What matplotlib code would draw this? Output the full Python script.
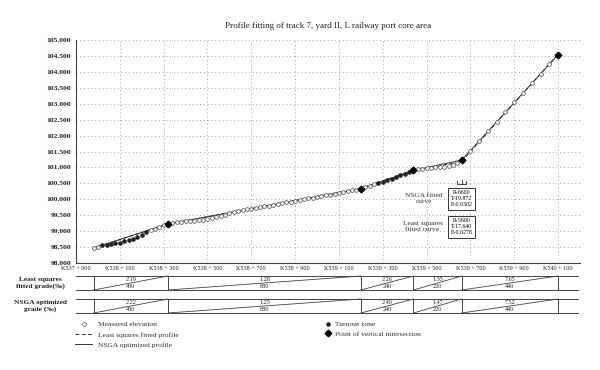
import matplotlib
matplotlib.use("Agg")
import matplotlib.pyplot as plt
from matplotlib.lines import Line2D
import numpy as np

plt.rcParams['font.family'] = ['Liberation Serif', 'DejaVu Serif']

# measured elevations along the track (chainage in m, elevation in m)
station = [37980, 38000, 38020, 38040, 38060, 38080, 38100, 38120, 38140, 38160,
           38180, 38200, 38220, 38240, 38260, 38280, 38300, 38320,
           38340, 38360, 38380, 38400, 38420, 38440, 38460, 38480, 38500, 38520,
           38540, 38560, 38580, 38600, 38620, 38640, 38660, 38680, 38700, 38720,
           38740, 38760, 38780, 38800, 38820, 38840, 38860, 38880, 38900, 38920,
           38940, 38960, 38980, 39000, 39020, 39040, 39060, 39080, 39100, 39120,
           39140, 39160, 39180, 39200,
           39220, 39240, 39260, 39280, 39300, 39320, 39340, 39360, 39380, 39400,
           39420, 39440,
           39460, 39480, 39500, 39520, 39540, 39560, 39580, 39600, 39620, 39640,
           39660, 39700, 39740, 39780, 39820, 39860, 39900, 39940, 39980, 40020,
           40060, 40100]
elevation = [98.47, 98.50, 98.55, 98.58, 98.60, 98.62, 98.64, 98.68, 98.72, 98.76,
             98.82, 98.88, 98.96, 99.03, 99.08, 99.13, 99.18, 99.22,
             99.26, 99.28, 99.30, 99.31, 99.31, 99.32, 99.34, 99.36, 99.38, 99.41,
             99.44, 99.48, 99.52, 99.56, 99.59, 99.62, 99.65, 99.68, 99.70, 99.73,
             99.76, 99.78, 99.80, 99.83, 99.85, 99.88, 99.90, 99.93, 99.96, 99.98,
             100.00, 100.03, 100.05, 100.08, 100.10, 100.12, 100.15, 100.17, 100.20, 100.22,
             100.25, 100.28, 100.30, 100.33,
             100.37, 100.42, 100.47, 100.51, 100.55, 100.60, 100.65, 100.70, 100.75, 100.80,
             100.85, 100.90,
             100.94, 100.96, 100.98, 100.99, 101.00, 101.00, 101.02, 101.05, 101.09, 101.15,
             101.23, 101.53, 101.83, 102.13, 102.43, 102.73, 103.04, 103.34, 103.64, 103.94,
             104.24, 104.54]
turnout_zones = [(38020, 38220), (39280, 39420)]

# grade change points of the two fitted profiles
pvi_station = [37980, 38320, 39200, 39440, 39660, 40100]
nsga_elev = [98.47, 99.23, 100.33, 100.91, 101.23, 104.54]
ls_elev = [98.47, 99.22, 100.35, 100.89, 101.19, 104.55]

ls_grade = ['2.19', '1.28', '2.26', '1.35', '7.65']
nsga_grade = ['2.22', '1.25', '2.40', '1.47', '7.52']
seg_length = ['400', '880', '240', '220', '440']

# vertical curve at the 4th PVI
curve_pvi = 39660
nsga_curve = ['R-6600', 'T-19.872', 'E-0.0302']
ls_curve = ['R-5600', 'T-17.640', 'E-0.0278']

tick_pos = [37900, 38100, 38300, 38500, 38700, 38900, 39100, 39300, 39500, 39700, 39900, 40100]
tick_lab = ['K537 + 900', 'K538 + 100', 'K538 + 300', 'K538 + 500', 'K538 + 700', 'K538 + 900',
            'K539 + 100', 'K539 + 300', 'K539 + 500', 'K539 + 700', 'K539 + 900', 'K540 + 100']

W, H = 600, 370
fig = plt.figure(figsize=(6, 3.7), dpi=100)
ax = fig.add_axes([76 / W, 1 - 263 / H, 504 / W, 223 / H])

station = np.array(station)
elevation = np.array(elevation)
in_turnout = np.zeros(len(station), dtype=bool)
for a, b in turnout_zones:
    in_turnout |= (station >= a) & (station <= b)

col = '#333333'
ax.plot(pvi_station, ls_elev, ls=(0, (4, 2.5)), color=col, lw=0.7, zorder=3)
ax.plot(pvi_station, nsga_elev, ls='-', color=col, lw=0.7, zorder=3)
ax.plot(station[~in_turnout], elevation[~in_turnout], 'o', ms=2.7, mfc='white',
        mec='#555555', mew=0.55, zorder=4)
ax.plot(station[in_turnout], elevation[in_turnout], 'o', ms=2.3, color='#222222', zorder=4)
ax.plot(pvi_station[1:], nsga_elev[1:], 'D', ms=3.4, color='black', zorder=5)

ax.set_xlim(37900, 40200)
ax.set_ylim(98, 105)
ax.set_yticks(np.arange(98, 105.01, 0.5))
ax.set_yticklabels(['%.3f' % v for v in np.arange(98, 105.01, 0.5)], fontsize=5.4,
                   fontweight='bold', color='#222222')
ax.set_xticks(tick_pos)
ax.set_xticklabels(tick_lab, fontsize=4.4, color='#222222')
ax.tick_params(length=0, pad=2.5)
ax.tick_params(axis='y', pad=3.5)
ax.grid(True, ls=(0, (1, 3.5)), color='#888888', lw=0.6)
for s in ['top', 'right']:
    ax.spines[s].set_visible(False)
for s in ['left', 'bottom']:
    ax.spines[s].set_color('#444444')
    ax.spines[s].set_linewidth(0.8)
ax.set_title('Profile fitting of track 7, yard II, L railway port core area', fontsize=6.5, pad=9,
             color='#222222')

# vertical curve marker and info boxes
T = float(nsga_curve[1].split('-')[1])
ax.plot([curve_pvi - T, curve_pvi - T, curve_pvi + T, curve_pvi + T],
        [100.56, 100.49, 100.49, 100.56], color='black', lw=0.5)
ax.plot([curve_pvi, curve_pvi], [100.49, 100.60], color='black', lw=0.5)
box = dict(boxstyle='square,pad=0.4', fc='white', ec='#333333', lw=0.7)
ax.text(curve_pvi, 100.02, '\n'.join(nsga_curve), fontsize=4.2, ha='center', va='center',
        linespacing=1.3, bbox=box, zorder=6)
ax.text(curve_pvi, 99.14, '\n'.join(ls_curve), fontsize=4.2, ha='center', va='center',
        linespacing=1.3, bbox=box, zorder=6)
ax.text(curve_pvi - 88, 100.03, 'NSGA fitted\ncurve', fontsize=5.3, ha='right', va='center',
        color='#333333', linespacing=1.15, multialignment='center')
ax.text(curve_pvi - 88, 99.14, 'Least squares\nfitted curve', fontsize=5.3, ha='right', va='center',
        color='#333333', linespacing=1.15, multialignment='center')

# grade table below the profile
tab = fig.add_axes([76 / W, 1 - 316 / H, 504 / W, 42 / H])
tab.set_xlim(37900, 40200)
tab.set_ylim(316, 274)
tab.axis('off')
for (top, bot), grades in zip([(276, 290), (299, 313)], [ls_grade, nsga_grade]):
    tab.plot([37900, 40192], [top, top], color='#444444', lw=0.7)
    tab.plot([37900, 40192], [bot, bot], color='#444444', lw=0.7)
    for s in pvi_station:
        tab.plot([s, s], [top, bot], color='#444444', lw=0.7)
    for i in range(len(grades)):
        x0, x1 = pvi_station[i], pvi_station[i + 1]
        tab.plot([x0, x1], [bot, top], color='#444444', lw=0.6)
        xm = (x0 + x1) / 2
        tab.text(xm, top + 3.9, grades[i], fontsize=4.4, ha='center', va='center', color='#222222')
        tab.text(xm, bot - 3.5, seg_length[i], fontsize=4.4, ha='center', va='center', color='#222222')

fig.text(40 / W, 1 - 283 / H, 'Least squares\nfitted grade(\u2030)', fontsize=5.3, fontweight='bold',
         ha='center', va='center', linespacing=1.2, color='#222222')
fig.text(40 / W, 1 - 306 / H, 'NSGA optimized\ngrade (\u2030)', fontsize=5.3, fontweight='bold',
         ha='center', va='center', linespacing=1.2, color='#222222')

# legends
h1 = [Line2D([], [], marker='o', ls='none', ms=2.7, mfc='white', mec='#555555', mew=0.55),
      Line2D([], [], ls=(0, (4, 2.5)), color=col, lw=0.7),
      Line2D([], [], ls='-', color=col, lw=0.7)]
fig.legend(h1, ['Measured elevation', 'Least squares fitted profile', 'NSGA optimized profile'],
           loc='upper left', bbox_to_anchor=(75 / W, 1 - 321 / H), frameon=False, fontsize=5.4,
           handlelength=2.3, handletextpad=0.7, labelspacing=0.55, borderpad=0, borderaxespad=0,
           numpoints=1, labelcolor='#333333')
h2 = [Line2D([], [], marker='o', ls='none', ms=2.3, color='#222222'),
      Line2D([], [], marker='D', ls='none', ms=3.4, color='black')]
fig.legend(h2, ['Turnout zone', 'Point of vertical intersection'],
           loc='upper left', bbox_to_anchor=(325 / W, 1 - 321 / H), frameon=False, fontsize=5.4,
           handlelength=0.8, handletextpad=0.5, labelspacing=0.45, borderpad=0, borderaxespad=0,
           numpoints=1, labelcolor='#333333')

fig.savefig('out.png', dpi=100)
